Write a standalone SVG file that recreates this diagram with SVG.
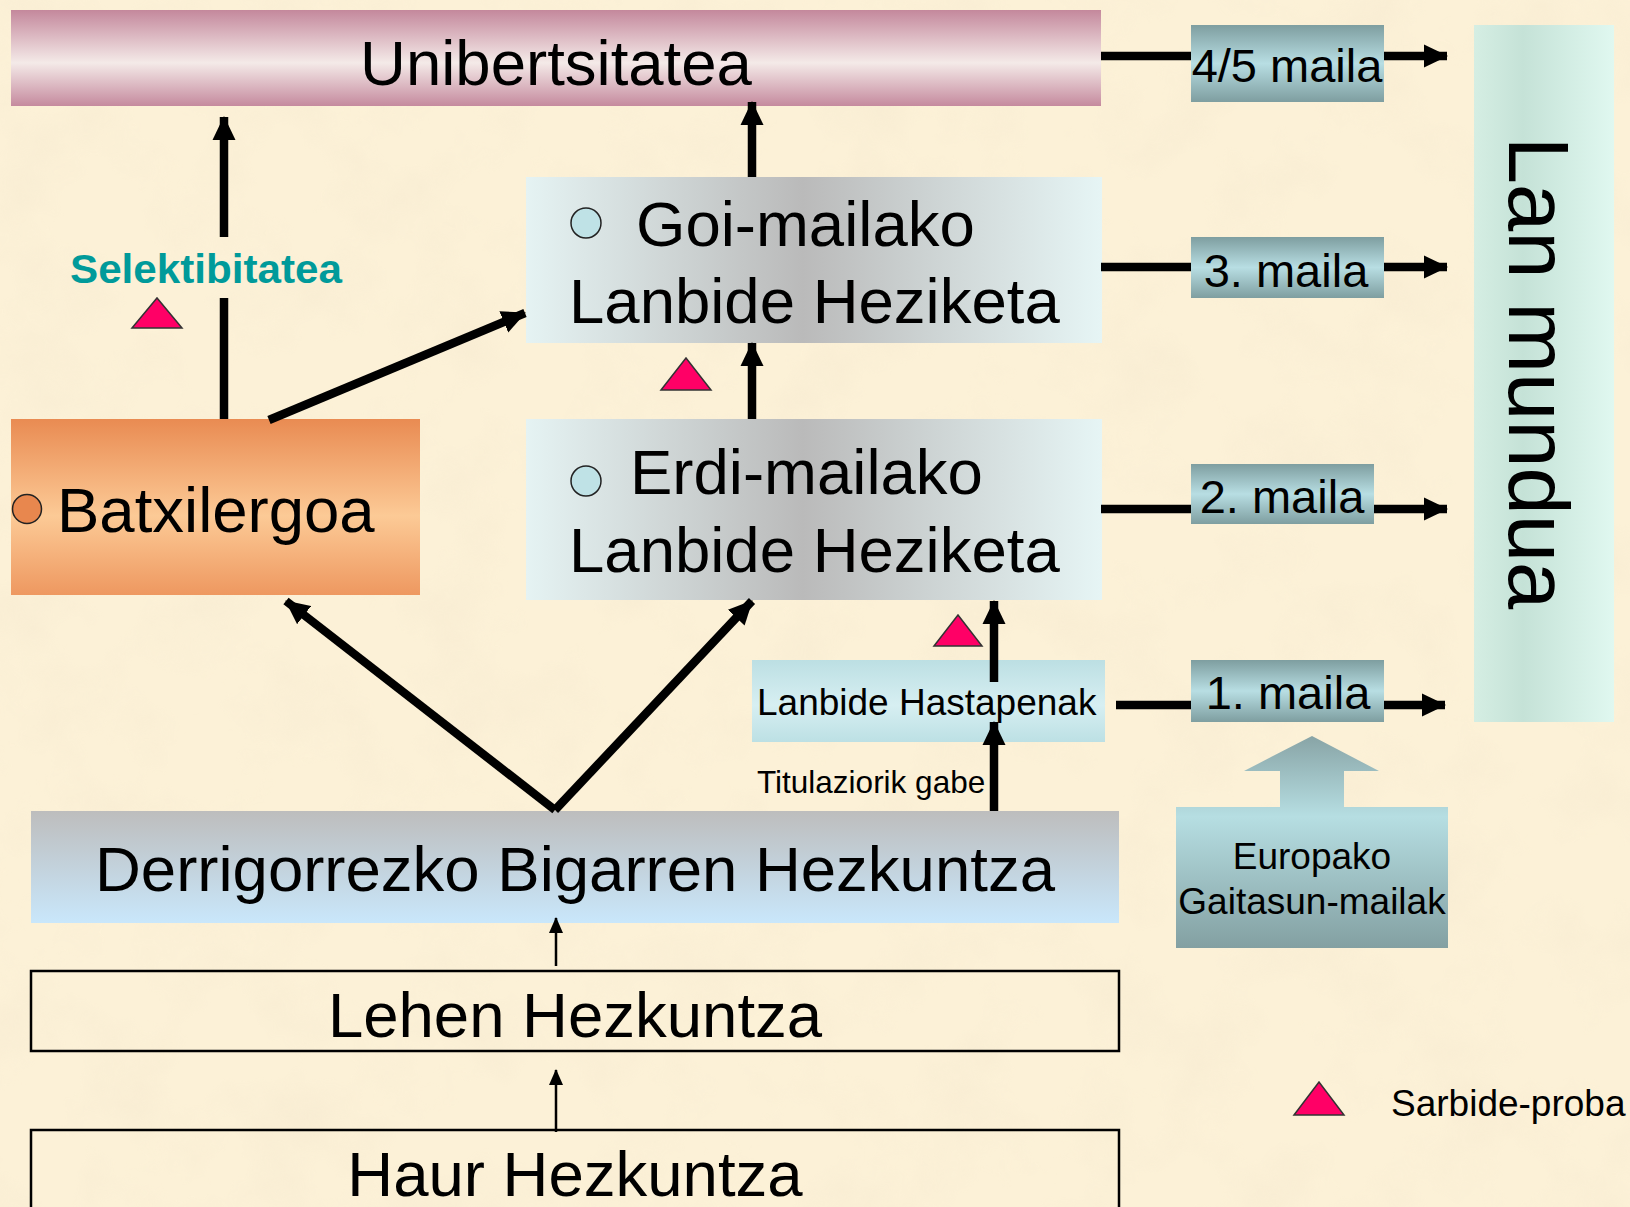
<svg xmlns="http://www.w3.org/2000/svg" width="1630" height="1207" viewBox="0 0 1630 1207">
<style>
text{font-family:"Liberation Sans",Arial,sans-serif;fill:#000}
.big{font-size:63.5px}
.mid{font-size:47px}
.sm{font-size:37px}
.con{stroke:#000;stroke-width:8.5;fill:none}
.thin{stroke:#000;stroke-width:2.5;fill:none}
.tri{fill:#FF0066;stroke:#333;stroke-width:1.5}
.bullet{stroke:#222;stroke-width:1.5}
</style>
<defs>
<filter id="paper" x="0" y="0" width="100%" height="100%">
<feTurbulence type="fractalNoise" baseFrequency="0.012" numOctaves="4" seed="7"/>
<feColorMatrix type="matrix" values="0 0 0 0 0.90  0 0 0 0 0.80  0 0 0 0 0.62  1.6 0 0 0 -0.72"/>
</filter>
<linearGradient id="gUniv" x1="0" y1="0" x2="0" y2="1"><stop offset="0" stop-color="#C4889C"/><stop offset="0.55" stop-color="#F4EAE8"/><stop offset="1" stop-color="#C58A9E"/></linearGradient>
<linearGradient id="gBatx" x1="0" y1="0" x2="0" y2="1"><stop offset="0" stop-color="#E98B52"/><stop offset="0.55" stop-color="#FCCA96"/><stop offset="1" stop-color="#EE9860"/></linearGradient>
<linearGradient id="gGrey" x1="0" y1="0" x2="1" y2="0"><stop offset="0" stop-color="#E5F3F3"/><stop offset="0.48" stop-color="#BABABA"/><stop offset="1" stop-color="#E6F5F5"/></linearGradient>
<linearGradient id="gMaila" x1="0" y1="0" x2="0" y2="1"><stop offset="0" stop-color="#7E9EA0"/><stop offset="0.5" stop-color="#B8DEE3"/><stop offset="1" stop-color="#7E9EA0"/></linearGradient>
<linearGradient id="gLan" x1="0" y1="0" x2="1" y2="0"><stop offset="0" stop-color="#D5EEE3"/><stop offset="0.35" stop-color="#C5E2D7"/><stop offset="1" stop-color="#E0F8F0"/></linearGradient>
<linearGradient id="gDBH" x1="0" y1="0" x2="0" y2="1"><stop offset="0" stop-color="#BDBDBD"/><stop offset="1" stop-color="#C9E7FB"/></linearGradient>
<linearGradient id="gLH" x1="0" y1="0" x2="0" y2="1"><stop offset="0" stop-color="#BCDFE3"/><stop offset="0.55" stop-color="#D7EFF2"/><stop offset="1" stop-color="#BCE0E4"/></linearGradient>
<linearGradient id="gEuro" x1="0" y1="0" x2="0" y2="1"><stop offset="0" stop-color="#88A4A6"/><stop offset="0.38" stop-color="#B6DEE2"/><stop offset="1" stop-color="#83A0A2"/></linearGradient>
<marker id="ah" markerUnits="userSpaceOnUse" markerWidth="24" markerHeight="24" viewBox="0 0 24 24" refX="23" refY="12" orient="auto"><path d="M0,0.5 L24,12 L0,23.5 z" fill="#000"/></marker>
<marker id="ahs" markerUnits="userSpaceOnUse" markerWidth="16" markerHeight="16" viewBox="0 0 16 16" refX="15" refY="8" orient="auto"><path d="M0,1 L16,8 L0,15 z" fill="#000"/></marker>
</defs>

<rect x="0" y="0" width="1630" height="1207" fill="#FCF1D7"/>
<rect x="0" y="0" width="1630" height="1207" filter="url(#paper)" opacity="0.55"/>

<g id="unibertsitatea">
<rect x="11" y="10" width="1090" height="96" fill="url(#gUniv)"/>
<text class="big" x="556" y="85" text-anchor="middle">Unibertsitatea</text>
</g>

<g id="batxilergoa">
<rect x="11" y="419" width="409" height="176" fill="url(#gBatx)"/>
<circle class="bullet" cx="27" cy="509" r="14.5" fill="#E8874E"/>
<text class="big" x="57" y="532">Batxilergoa</text>
</g>

<g id="goi-mailako">
<rect x="526" y="177" width="576" height="166" fill="url(#gGrey)"/>
<circle class="bullet" cx="586" cy="223" r="15" fill="#BFE2E6"/>
<text class="big" x="636" y="246">Goi-mailako</text>
<text class="big" x="569" y="323">Lanbide Heziketa</text>
</g>

<g id="erdi-mailako">
<rect x="526" y="419" width="576" height="181" fill="url(#gGrey)"/>
<circle class="bullet" cx="586" cy="481" r="15" fill="#BFE2E6"/>
<text class="big" x="630" y="494">Erdi-mailako</text>
<text class="big" x="569" y="572">Lanbide Heziketa</text>
</g>

<g id="lanbide-hastapenak">
<rect x="752" y="660" width="353" height="82" fill="url(#gLH)"/>
<text class="sm" x="757" y="715">Lanbide Hastapenak</text>
</g>

<g id="dbh">
<rect x="31" y="811" width="1088" height="112" fill="url(#gDBH)"/>
<text class="big" x="575" y="891" text-anchor="middle">Derrigorrezko Bigarren Hezkuntza</text>
</g>

<g id="lehen">
<rect x="31" y="971" width="1088" height="80" fill="none" stroke="#000" stroke-width="2.5"/>
<text class="big" x="575" y="1037" text-anchor="middle">Lehen Hezkuntza</text>
</g>

<g id="haur">
<rect x="31" y="1130" width="1088" height="90" fill="none" stroke="#000" stroke-width="2.5"/>
<text class="big" x="575" y="1196" text-anchor="middle">Haur Hezkuntza</text>
</g>

<g id="maila45">
<rect x="1191" y="25" width="193" height="77" fill="url(#gMaila)"/>
<text class="mid" x="1287" y="82" text-anchor="middle">4/5 maila</text>
</g>
<g id="maila3">
<rect x="1191" y="237" width="193" height="61" fill="url(#gMaila)"/>
<text class="mid" x="1286" y="287" text-anchor="middle">3. maila</text>
</g>
<g id="maila2">
<rect x="1191" y="464" width="183" height="60" fill="url(#gMaila)"/>
<text class="mid" x="1282" y="513" text-anchor="middle">2. maila</text>
</g>
<g id="maila1">
<rect x="1191" y="660" width="193" height="62" fill="url(#gMaila)"/>
<text class="mid" x="1288" y="709" text-anchor="middle">1. maila</text>
</g>

<g id="lan-mundua">
<rect x="1474" y="25" width="140" height="697" fill="url(#gLan)"/>
<text x="0" y="0" font-size="85" transform="translate(1509,373) rotate(90)" text-anchor="middle">Lan mundua</text>
</g>

<g id="europako">
<path d="M1176,807 L1280,807 L1280,771 L1244,771 L1312,736 L1379,771 L1344,771 L1344,807 L1448,807 L1448,948 L1176,948 Z" fill="url(#gEuro)"/>
<text class="sm" x="1312" y="869" text-anchor="middle">Europako</text>
<text class="sm" x="1312" y="914" text-anchor="middle">Gaitasun-mailak</text>
</g>

<g id="connectors">
<line class="con" x1="224" y1="419" x2="224" y2="298"/>
<line class="con" x1="224" y1="237" x2="224" y2="117" marker-end="url(#ah)"/>
<line class="con" x1="269" y1="420" x2="525" y2="313" marker-end="url(#ah)"/>
<line class="con" x1="752" y1="177" x2="752" y2="102" marker-end="url(#ah)"/>
<line class="con" x1="752" y1="419" x2="752" y2="343" marker-end="url(#ah)"/>
<line class="con" x1="555" y1="810" x2="752" y2="601" marker-end="url(#ah)"/>
<line class="con" x1="555" y1="810" x2="286" y2="601" marker-end="url(#ah)"/>
<line class="con" x1="994" y1="811" x2="994" y2="722" marker-end="url(#ah)"/>
<line class="con" x1="994" y1="682" x2="994" y2="601" marker-end="url(#ah)"/>
<line class="con" x1="1101" y1="56" x2="1191" y2="56"/>
<line class="con" x1="1384" y1="56" x2="1447" y2="56" marker-end="url(#ah)"/>
<line class="con" x1="1101" y1="267" x2="1191" y2="267"/>
<line class="con" x1="1384" y1="267" x2="1447" y2="267" marker-end="url(#ah)"/>
<line class="con" x1="1101" y1="509" x2="1191" y2="509"/>
<line class="con" x1="1374" y1="509" x2="1447" y2="509" marker-end="url(#ah)"/>
<line class="con" x1="1116" y1="705" x2="1191" y2="705"/>
<line class="con" x1="1384" y1="705" x2="1445" y2="705" marker-end="url(#ah)"/>
<line class="thin" x1="556" y1="966" x2="556" y2="918" marker-end="url(#ahs)"/>
<line class="thin" x1="556" y1="1132" x2="556" y2="1070" marker-end="url(#ahs)"/>
</g>

<g id="selektibitatea">
<text x="70" y="283" font-size="40" font-weight="bold" style="fill:#009A9A" textLength="272" lengthAdjust="spacingAndGlyphs">Selektibitatea</text>
<polygon class="tri" points="132,328 157,298 182,328"/>
</g>
<text x="757" y="793" font-size="31.5">Titulaziorik gabe</text>
<polygon class="tri" points="661,390 686,358 711,390"/>
<polygon class="tri" points="934,646 958,615 982,646"/>

<g id="legend">
<polygon class="tri" points="1294,1115 1319,1082 1344,1115"/>
<text class="sm" x="1391" y="1116">Sarbide-proba</text>
</g>
</svg>
